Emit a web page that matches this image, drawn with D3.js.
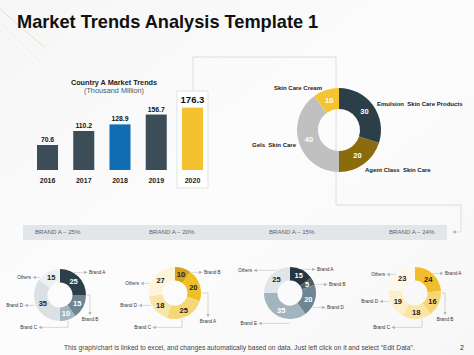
<!DOCTYPE html>
<html><head><meta charset="utf-8">
<script src="https://cdn.jsdelivr.net/npm/d3@7"></script>
<style>html,body{margin:0;padding:0;background:#fafafa;} svg{display:block;font-family:"Liberation Sans",Arial,sans-serif;}</style>
</head><body><svg id="c" width="474" height="355"></svg>
<script>
// ---------- data ----------
const years = ["2016","2017","2018","2019","2020"];
const marketValues = [70.6,110.2,128.9,156.7,176.3];
const skinCategories = ["Emulsion  Skin Care Products","Agent Class  Skin Care","Gels  Skin Care","Skin Care Cream"];
const skinValues = [30,20,40,10];
const brandHeadings = ["BRAND A \u2013 25%","BRAND A \u2013 20%","BRAND A \u2013 15%","BRAND A \u2013 24%"];
const brands1 = ["Brand A","Brand B","Brand C","Brand D","Others"];
const shares1 = [25,15,10,35,15];
const brands2 = ["Brand B","Brand A","Brand C","Brand D","Others"];
const shares2 = [10,20,25,18,27];
const brands3 = ["Brand A","Brand B","Brand D","Brand E","Others"];
const shares3 = [15,5,20,35,25];
const brands4 = ["Brand A","Brand B","Brand C","Brand D","Others"];
const shares4 = [24,16,18,19,23];
const title = "Market Trends Analysis Template 1";
const barTitle = "Country A  Market Trends";
const barSubtitle = "(Thousand Million)";
const footnote = "This graph/chart is linked to excel, and changes automatically based on data. Just left click on it and select \u201CEdit Data\u201D.";
const pageNumber = "2";

// ---------- layout / style ----------
const svg = d3.select("#c");
const W = 474, H = 355;
const defs = svg.append("defs");
const bg = defs.append("linearGradient").attr("id","bg").attr("x1",0).attr("y1",0).attr("x2",1).attr("y2",1);
bg.append("stop").attr("offset","0%").attr("stop-color","#f6f6f6");
bg.append("stop").attr("offset","50%").attr("stop-color","#fcfcfc");
bg.append("stop").attr("offset","100%").attr("stop-color","#f7f7f7");
svg.append("rect").attr("width",W).attr("height",H).attr("fill","url(#bg)");
defs.append("marker").attr("id","arr").attr("viewBox","0 0 6 6").attr("refX",5).attr("refY",3)
  .attr("markerWidth",3.5).attr("markerHeight",3.5).attr("markerUnits","userSpaceOnUse").attr("orient","auto")
  .append("path").attr("d","M0,0L6,3L0,6z").attr("fill","#b5b5b5");

// decorative corner lines
svg.append("line").attr("x1",0).attr("y1",9).attr("x2",44).attr("y2",47).attr("stroke","#eadfb8").attr("stroke-width",1);
svg.append("line").attr("x1",0).attr("y1",22).attr("x2",40).attr("y2",62).attr("stroke","#ececec").attr("stroke-width",1);

// title
svg.append("text").attr("x",17).attr("y",28).attr("font-size",18.2).attr("font-weight","bold").attr("fill","#111").text(title);

// connectors
svg.append("path").attr("d","M193,91V57H336V205H461V232H453").attr("fill","none")
  .attr("stroke","#d6d6d6").attr("stroke-width",0.8).attr("marker-end","url(#arr)");

// ---------- bar chart ----------
const x = d3.scaleBand().domain(years).range([29.4,210.6]).paddingInner(0.42).paddingOuter(0.21);
const y = d3.scaleLinear().domain([0,176.3]).range([170,107.6]);
const barColors = ["#3c4d57","#3c4d57","#116db3","#3c4d57","#f4c22f"];
svg.append("rect").attr("x",x("2020")-5).attr("y",91).attr("width",x.bandwidth()+10).attr("height",97)
  .attr("fill","#ffffff").attr("stroke","#dcdcdc").attr("stroke-width",0.8);
svg.append("text").attr("x",114).attr("y",85).attr("text-anchor","middle").attr("font-size",7.3).attr("font-weight","bold").attr("fill","#222").text(barTitle);
svg.append("text").attr("x",114).attr("y",93).attr("text-anchor","middle").attr("font-size",7.3).attr("fill","#555").text(barSubtitle);
const bars = svg.append("g");
bars.selectAll("rect").data(marketValues).join("rect")
  .attr("x",(d,i)=>x(years[i])).attr("y",d=>y(d)).attr("width",x.bandwidth()).attr("height",d=>y(0)-y(d))
  .attr("fill",(d,i)=>barColors[i]);
bars.selectAll("text.v").data(marketValues).join("text").attr("class","v")
  .attr("x",(d,i)=>x(years[i])+x.bandwidth()/2)
  .attr("y",(d,i)=>y(d)-(i===4?5:3))
  .attr("text-anchor","middle").attr("font-weight","bold")
  .attr("font-size",(d,i)=>i===4?9.5:6.8).attr("fill","#111").text(d=>d.toFixed(1));
const xAxis = svg.append("g").attr("transform","translate(0,170)").call(d3.axisBottom(x).tickSize(0).tickPadding(8));
xAxis.select(".domain").remove();
xAxis.selectAll("text").attr("font-size",7).attr("font-weight","bold").attr("fill","#222").attr("font-family","'Liberation Sans',Arial,sans-serif");

// ---------- main donut ----------
const pie = d3.pie().sort(null).startAngle(0).endAngle(2*Math.PI);
const pieColors = ["#2c3e48","#8b6c0c","#c0c0c0","#f5c431"];
const pcx = 339, pcy = 130, pr = 42, pri = 21;
const arcMain = d3.arc().innerRadius(pri).outerRadius(pr);
const gMain = svg.append("g").attr("transform",`translate(${pcx},${pcy})`);
const mainArcs = pie(skinValues);
gMain.selectAll("path").data(mainArcs).join("path").attr("d",arcMain).attr("fill",(d,i)=>pieColors[i]);
gMain.selectAll("text").data(mainArcs).join("text")
  .attr("transform",d=>`translate(${arcMain.centroid(d)})`).attr("dy","0.35em")
  .attr("text-anchor","middle").attr("font-size",7.5).attr("font-weight","bold").attr("fill","#ffffff")
  .text(d=>d.data);
const pieLabelPos = [
  {x:377,y:106,a:"start"},
  {x:365,y:172,a:"start"},
  {x:296,y:147,a:"end"},
  {x:298,y:90,a:"middle"}
];
svg.append("g").selectAll("text").data(skinCategories).join("text")
  .attr("x",(d,i)=>pieLabelPos[i].x).attr("y",(d,i)=>pieLabelPos[i].y).attr("text-anchor",(d,i)=>pieLabelPos[i].a)
  .attr("font-size",6).attr("font-weight","bold").attr("fill","#222").attr("xml:space","preserve").text(d=>d);

// ---------- brand band ----------
svg.append("rect").attr("x",23).attr("y",225).attr("width",424).attr("height",15).attr("fill","#e2e6e9");
const bandX = [35,149,269,389];
svg.append("g").selectAll("text").data(brandHeadings).join("text")
  .attr("x",(d,i)=>bandX[i]).attr("y",234.3).attr("font-size",6.1).attr("fill","#5f5f5f").text(d=>d);

// ---------- small donuts ----------
const donuts = [
  {names:brands1, vals:shares1, cx:60, cy:295,
   colors:["#2c3e48","#6e8592","#a3b4be","#dae1e5","#eef1f3"], txt:["#fff","#fff","#fff","#222","#222"],
   labels:[{x:89,y:274,a:"start",t:"h"},{x:90,y:321,a:"middle",t:"hv"},{x:37,y:329,a:"end",t:"vh",sx:68},{x:23,y:307,a:"end",t:"h"},{x:31,y:279,a:"end",t:"h"}]},
  {names:brands2, vals:shares2, cx:175, cy:293,
   colors:["#d6a118","#efbf25","#f6d778","#f9e5a7","#fdf4d9"], txt:["#222","#222","#222","#222","#222"],
   labels:[{x:204,y:274,a:"start",t:"h"},{x:208,y:323,a:"middle",t:"hv"},{x:151,y:329,a:"end",t:"vh",sx:182},{x:137,y:307,a:"end",t:"h"},{x:139,y:285,a:"end",t:"h"}]},
  {names:brands3, vals:shares3, cx:290, cy:293,
   colors:["#26353e","#4b5f6a","#6e8592","#a3b4be","#dfe5e8"], txt:["#fff","#fff","#fff","#fff","#222"],
   labels:[{x:317,y:271,a:"start",t:"h"},{x:329,y:286,a:"start",t:"h"},{x:327,y:309,a:"start",t:"h"},{x:257,y:325,a:"end",t:"h"},{x:252,y:272,a:"end",t:"h"}]},
  {names:brands4, vals:shares4, cx:415, cy:293,
   colors:["#f1bd2a","#f7d676","#fae4a6","#fcefcc","#fef9ea"], txt:["#222","#222","#222","#222","#222"],
   labels:[{x:445,y:275,a:"start",t:"h"},{x:445,y:321,a:"middle",t:"hv"},{x:390,y:329,a:"end",t:"vh",sx:422},{x:378,y:303,a:"end",t:"h"},{x:385,y:276,a:"end",t:"h"}]}
];
const sr = 26, sri = 12.5;
const arcSmall = d3.arc().innerRadius(sri).outerRadius(sr);
donuts.forEach(dn=>{
  const g = svg.append("g");
  dn.labels.forEach(L=>{
    const y0 = L.y - 1.6;
    let d;
    if (L.t==="h"){
      const dy = y0 - dn.cy;
      const off = Math.abs(dy) < sr ? Math.sqrt(sr*sr - dy*dy) + 1 : 0;
      const sx = L.a==="start" ? dn.cx + off : dn.cx - off;
      const ex = L.a==="start" ? L.x - 2 : L.x + 2;
      d = `M${sx},${y0}H${ex}`;
    } else if (L.t==="hv"){
      d = `M${dn.cx+sr+1},${dn.cy}H${L.x}V${L.y-6.5}`;
    } else {
      const sy = dn.cy + Math.sqrt(sr*sr - (L.sx-dn.cx)*(L.sx-dn.cx)) + 1;
      d = `M${L.sx},${sy}V${y0}H${L.x+2}`;
    }
    g.append("path").attr("d",d).attr("fill","none").attr("stroke","#bdbdbd").attr("stroke-width",0.6).attr("marker-end","url(#arr)");
  });
  const arcs = pie(dn.vals);
  const gg = g.append("g").attr("transform",`translate(${dn.cx},${dn.cy})`);
  gg.selectAll("path").data(arcs).join("path").attr("d",arcSmall).attr("fill",(d,i)=>dn.colors[i]);
  gg.selectAll("text").data(arcs).join("text")
    .attr("transform",d=>`translate(${arcSmall.centroid(d)})`).attr("dy","0.35em").attr("text-anchor","middle")
    .attr("font-size",7.5).attr("font-weight","bold").attr("fill",(d,i)=>dn.txt[i]).text(d=>d.data);
  g.selectAll("text.lab").data(dn.names).join("text").attr("class","lab")
    .attr("x",(d,i)=>dn.labels[i].x).attr("y",(d,i)=>dn.labels[i].y).attr("text-anchor",(d,i)=>dn.labels[i].a)
    .attr("font-size",4.6).attr("fill","#333").text(d=>d);
});

// ---------- footer ----------
svg.append("text").attr("x",64).attr("y",350).attr("font-size",6.7).attr("fill","#444").text(footnote);
svg.append("text").attr("x",462).attr("y",350).attr("text-anchor","middle").attr("font-size",7).attr("fill","#222").text(pageNumber);
</script></body></html>
